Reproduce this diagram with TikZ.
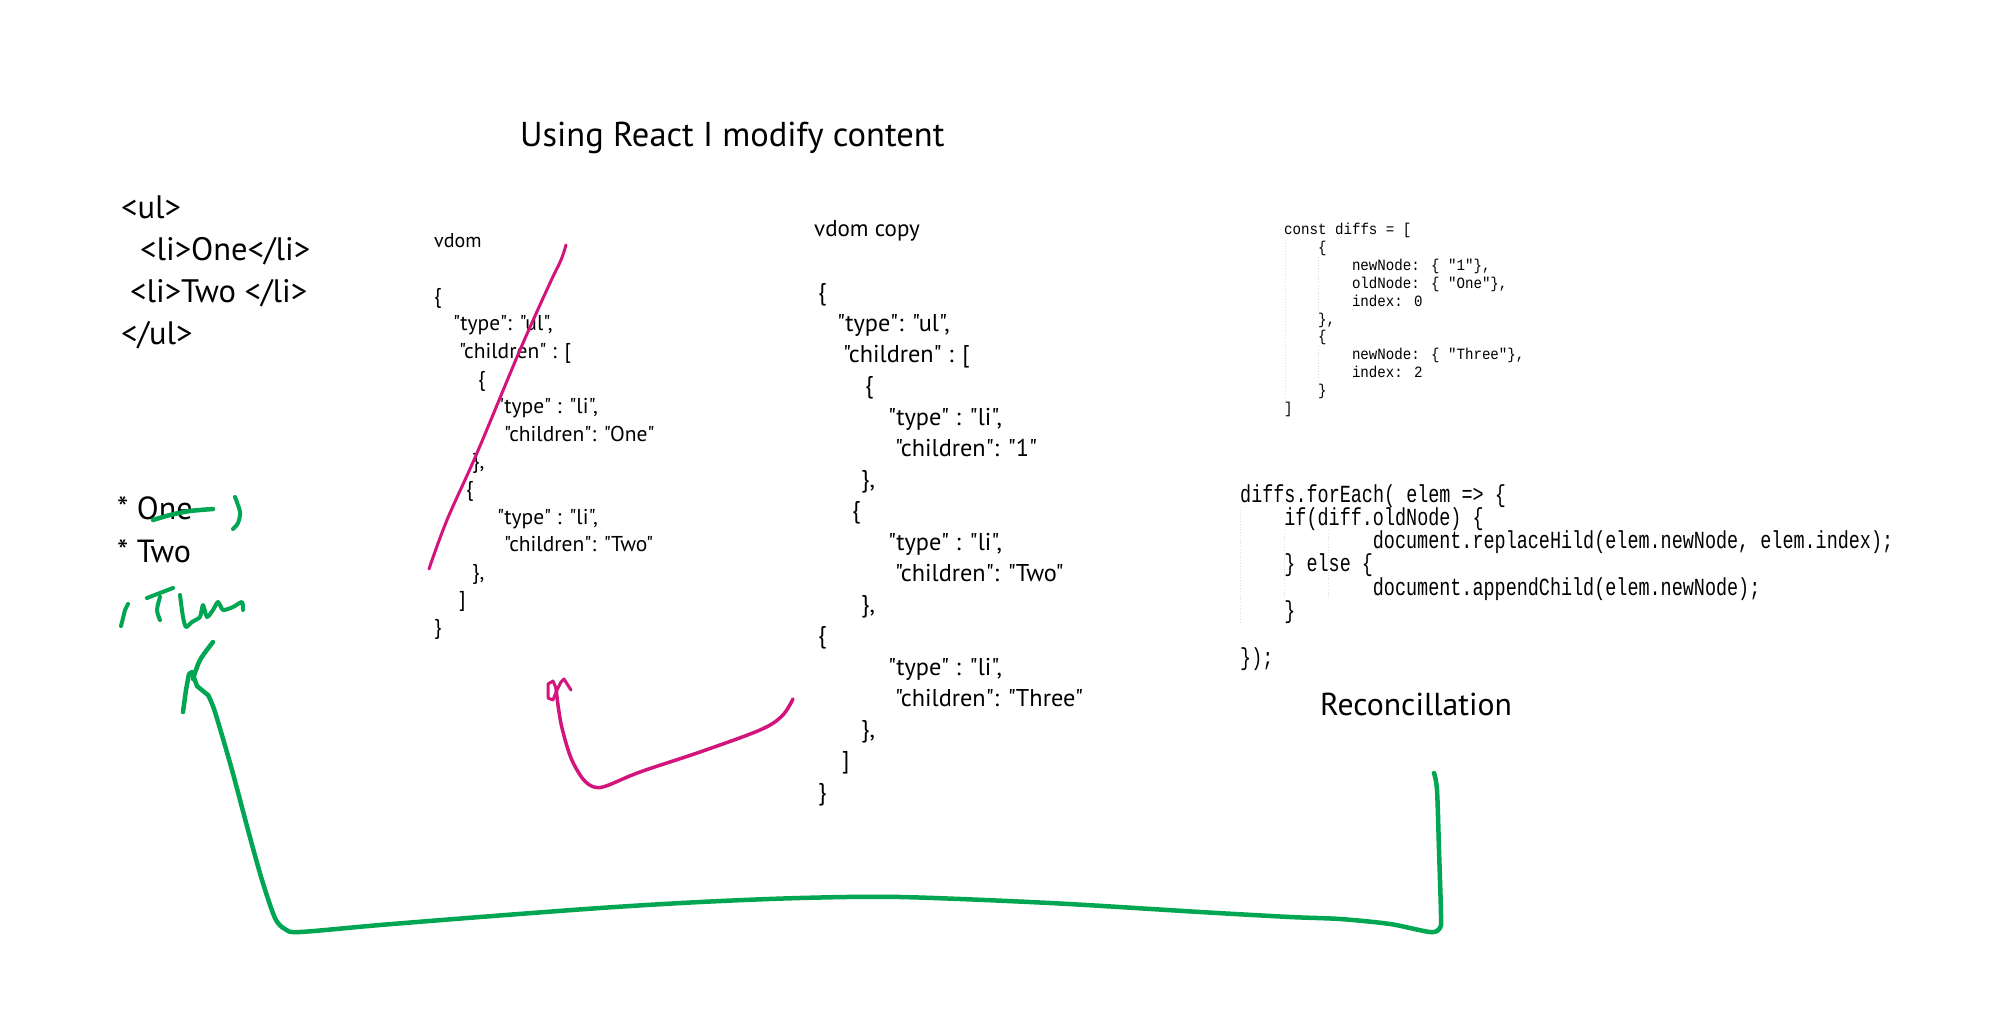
\documentclass[tikz,border=0pt]{standalone}
\usepackage{fontspec}
\setmainfont{PT Sans}[Ligatures=TeXOff]
\newfontfamily\codeA[FakeStretch=0.9]{Liberation Mono}
\newfontfamily\codeB[FakeStretch=0.75]{Liberation Mono}
\definecolor{inkpink}{RGB}{212,20,125}
\definecolor{inkgreen}{RGB}{0,166,81}
\begin{document}
\begin{tikzpicture}[x=1pt,y=-1pt,
  txt/.style={inner sep=0pt, anchor=west, text=black},
  block/.style={inner sep=0pt, anchor=north west, align=left, text=black},
  pinkink/.style={draw=inkpink, line width=3.5pt, line cap=round, line join=round},
  greenink/.style={draw=inkgreen, line width=4.5pt, line cap=round, line join=round},
  guide/.style={draw=gray!25, line width=0.8pt, dotted}]
\useasboundingbox[fill=white] (0,0) rectangle (2000,1036);

% title
\node[txt, font=\fontsize{34.5}{40}\selectfont] (title) at (520,138) {Using React I modify content};

% html
\node[block, font=\fontsize{32.5}{42}\selectfont] (html) at (121,196)
 {<ul>\\ \hspace*{19pt}<li>One</li>\\ \hspace*{9pt}<li>Two </li>\\ </ul>};

% rendered list
\node[block, font=\fontsize{32}{43}\selectfont] (list) at (117,496)
 {* One\\ * Two};

% vdom
\node[txt, font=\fontsize{20}{24}\selectfont] (vdomlabel) at (434,241) {vdom};
\node[block, font=\fontsize{21.5}{27.6}\selectfont] (vdom) at (434,288)
 {\{\\
  \hspace*{19pt}"type": "ul",\\
  \hspace*{25pt}"children" : [\\
  \hspace*{44pt}\{\\
  \hspace*{63pt}"type" : "li",\\
  \hspace*{70pt}"children": "One"\\
  \hspace*{38pt}\},\\
  \hspace*{32pt}\{\\
  \hspace*{63pt}"type" : "li",\\
  \hspace*{70pt}"children": "Two"\\
  \hspace*{38pt}\},\\
  \hspace*{25pt}]\\
  \}};

% vdom copy
\node[txt, font=\fontsize{23}{28}\selectfont] (copylabel) at (814,231) {vdom copy};
\node[block, font=\fontsize{24.3}{31.25}\selectfont] (vcopy) at (818,283)
 {\{\\
  \hspace*{19pt}"type": "ul",\\
  \hspace*{25pt}"children" : [\\
  \hspace*{47pt}\{\\
  \hspace*{70pt}"type" : "li",\\
  \hspace*{77pt}"children": "1"\\
  \hspace*{43pt}\},\\
  \hspace*{34pt}\{\\
  \hspace*{70pt}"type" : "li",\\
  \hspace*{77pt}"children": "Two"\\
  \hspace*{43pt}\},\\
  \{\\
  \hspace*{70pt}"type" : "li",\\
  \hspace*{77pt}"children": "Three"\\
  \hspace*{43pt}\},\\
  \hspace*{24pt}]\\
  \}};

% diffs
\draw[guide] (1285,240) -- (1285,404);
\draw[guide] (1318,257) -- (1318,312);
\draw[guide] (1318,346) -- (1318,386);
\node[block, font=\codeA\fontsize{15.7}{17.9}\selectfont] (diffs) at (1284,223)
 {const diffs = [\\
  \hspace*{33.9pt}\{\\
  \hspace*{67.8pt}newNode: \{ "1"\},\\
  \hspace*{67.8pt}oldNode: \{ "One"\},\\
  \hspace*{67.8pt}index: 0\\
  \hspace*{33.9pt}\},\\
  \hspace*{33.9pt}\{\\
  \hspace*{67.8pt}newNode: \{ "Three"\},\\
  \hspace*{67.8pt}index: 2\\
  \hspace*{33.9pt}\}\\
  ]};

% forEach
\draw[guide] (1240,507) -- (1240,624);
\draw[guide] (1284,530) -- (1284,600);
\draw[guide] (1328,530) -- (1328,600);
\node[block, font=\codeB\fontsize{24.6}{23.3}\selectfont] (loop) at (1240,484)
 {diffs.forEach( elem => \{\\
  \hspace*{44.2pt}if(diff.oldNode) \{\\
  \hspace*{132.7pt}document.replaceHild(elem.newNode, elem.index);\\
  \hspace*{44.2pt}\} else \{\\
  \hspace*{132.7pt}document.appendChild(elem.newNode);\\
  \hspace*{44.2pt}\}\\
  \mbox{}\\
  \});};

\node[txt, font=\fontsize{31.7}{38}\selectfont] (recon) at (1320,704) {Reconcillation};

% pink strike over vdom
\draw[pinkink, line width=3pt] plot[smooth, tension=0.6] coordinates
 {(566,245) (561,260) (550,283) (520,350) (477,453) (447,520) (429,569)};

% pink arrow vdom copy -> vdom
\coordinate (pstart) at (793,699);
\coordinate (ptip) at (556,688);
\draw[pinkink] plot[smooth, tension=0.55] coordinates
 {(pstart) (782,716) (760,730) (700,752) (640,772) (606,786) (594,787) (583,779) (571,758) (562,728) (558,705) (ptip)};
\draw[pinkink, line width=3pt] (ptip) -- (553,681) -- (548,684) -- (548,698) -- (553,700) -- (557,690) -- (561,682) -- (564,679) -- (571,690);

% green scribbles
\draw[greenink] plot[smooth] coordinates {(153,520) (170,515) (190,511) (213,509)};
\draw[greenink, line width=4pt] plot[smooth] coordinates {(235,497) (240,512) (238,523) (233,529)};
\draw[greenink, line width=4pt] (128,604) -- (125,610) -- (121,626);
\draw[greenink, line width=4pt] (147,598) -- (173,588);
\draw[greenink, line width=4pt] plot[smooth] coordinates {(160,597) (157,610) (160,620)};
\draw[greenink, line width=4pt] plot[smooth, tension=0.4] coordinates
 {(180,595) (183,617) (186,627) (192,622) (200,617) (203,605) (207,617) (213,610) (218,602) (223,610) (233,607) (242,602) (243,610)};

% green arrow reconciliation -> list
\coordinate (gstart) at (1434,773);
\coordinate (gtip) at (192,672);
\draw[greenink] plot[smooth, tension=0.5] coordinates
 {(gstart) (1437,790) (1439,850) (1441,915) (1440,928) (1430,932) (1390,924) (1340,919) (1290,917) (1200,912) (1050,903) (900,897) (800,898) (700,902) (600,908) (480,917) (380,925) (300,932) (285,929) (275,918) (262,880) (248,830) (232,770) (215,712) (208,695)};
\draw[greenink] (208,695) -- (203,691) -- (197,686) -- (gtip) -- (189,674) -- (186,690) -- (183,712);
\draw[greenink] plot[smooth] coordinates {(193,679) (200,660) (213,642)};
\end{tikzpicture}
\end{document}
